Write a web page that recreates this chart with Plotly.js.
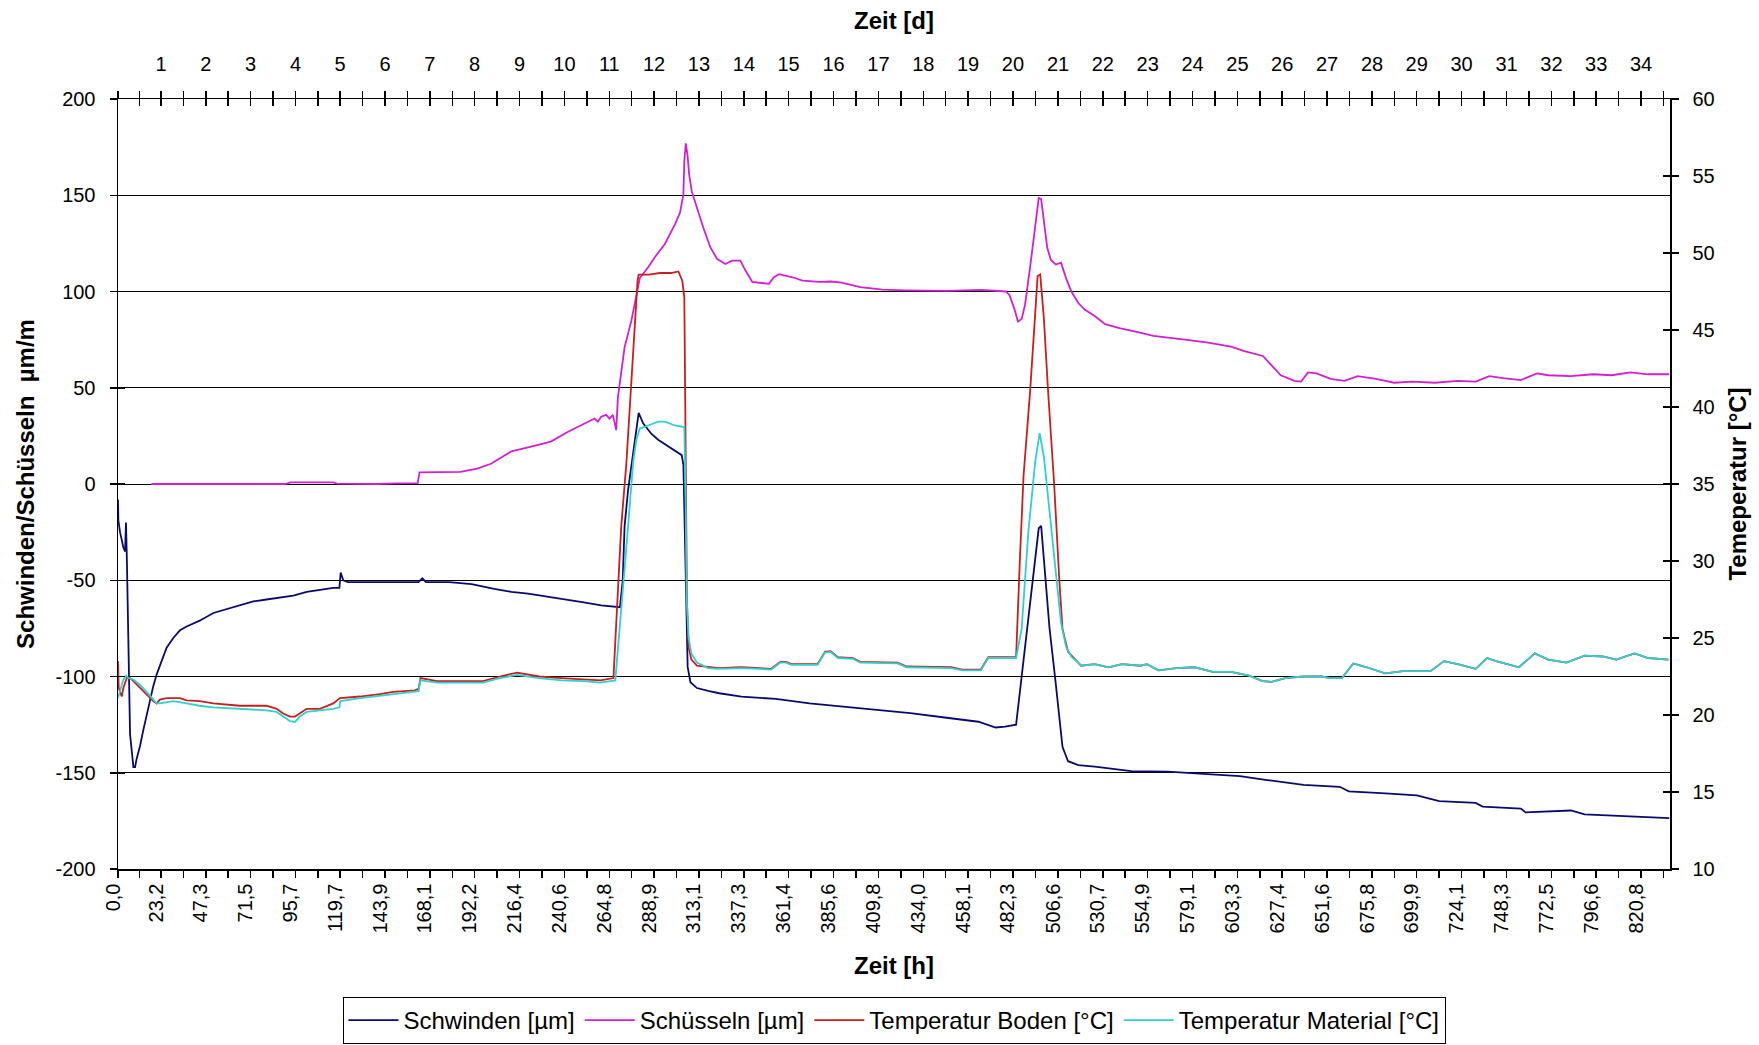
<!DOCTYPE html>
<html>
<head>
<meta charset="utf-8">
<script src="https://cdn.plot.ly/plotly-3.0.1.min.js"></script>
<style>html,body{margin:0;padding:0;background:#fff}#chart{width:1759px;height:1045px}</style>
</head>
<body>
<div id="chart"></div>
<script>
// ---- tick labels (category labels) ----
const hourTickLabels = ["0,0","23,2","47,3","71,5","95,7","119,7","143,9","168,1","192,2","216,4","240,6","264,8","288,9","313,1","337,3","361,4","385,6","409,8","434,0","458,1","482,3","506,6","530,7","554,9","579,1","603,3","627,4","651,6","675,8","699,9","724,1","748,3","772,5","796,6","820,8"];
const dayTickLabels = ["1","2","3","4","5","6","7","8","9","10","11","12","13","14","15","16","17","18","19","20","21","22","23","24","25","26","27","28","29","30","31","32","33","34"];
const leftTickValues = [-200,-150,-100,-50,0,50,100,150,200];
const rightTickValues = [10,15,20,25,30,35,40,45,50,55,60];
const seriesNames = ["Schwinden [µm]","Schüsseln [µm]","Temperatur Boden [°C]","Temperatur Material [°C]"];

// ---- series values: [time h, value] ----
const schwinden = [[0,-8],[0.2,-19],[1.1,-25],[2,-30],[2.9,-33],[3.8,-35],[4.3,-20],[4.8,-40],[5.6,-95],[6.5,-130],[8.3,-147],[9.2,-147],[10,-143],[11.9,-136],[13.6,-128],[15.4,-120],[17.2,-113],[19,-105],[20.8,-99],[22.6,-94],[24.4,-89],[26.2,-85],[29.8,-80],[33.4,-76],[37,-74],[44,-71],[51.4,-67],[58.5,-65],[65.7,-63],[72.9,-61],[80,-60],[87,-59],[94.5,-58],[101.7,-56],[108.8,-55],[116,-54],[119.3,-54],[120,-46],[121.4,-50],[124,-51],[140,-51],[155,-51],[162,-51],[164,-49],[166,-51],[178.5,-51],[190.6,-52],[202.7,-54.5],[212,-56],[221,-57],[233,-58.7],[242,-60],[251,-61.5],[260.4,-63],[268,-64],[270.5,-64],[272,-50],[273,-22],[274.9,-3],[279.4,28],[280.6,37],[283,31.5],[287.5,26],[291.1,23],[296.6,19.5],[303.8,15],[304.7,10],[305.6,-30],[306.2,-70],[307,-95],[308.5,-103],[312,-106],[318,-107.5],[324,-108.7],[336,-110.5],[354.5,-111.6],[372.7,-114],[391,-115.7],[409,-117.4],[427,-119],[445.5,-121.3],[463.7,-123.5],[473,-126.5],[478,-126],[484,-125],[487,-99.5],[491.6,-62.5],[496.2,-23],[497.5,-21.7],[499.5,-45],[502,-74.8],[505.4,-104],[509,-136.5],[512,-144],[517.5,-146],[526.4,-146.8],[546,-149.2],[565.5,-149.4],[587.5,-150.8],[604.6,-151.8],[619.3,-153.8],[638.9,-156.3],[658.4,-157.3],[663.3,-159.7],[683,-160.7],[700,-161.7],[712,-164.7],[731.7,-165.7],[735.4,-167.6],[756,-168.6],[758.6,-170.6],[783,-169.6],[790.4,-171.6],[810,-172.6],[836,-173.6]];

const schuesseln = [[18,0],[90,0],[93,0.8],[116,0.8],[118,0.2],[140,0],[150,0.3],[161.5,0.5],[162.5,6],[175,6],[184.5,6.3],[193.6,8],[201,10.5],[207,14],[212,17],[221,19],[230,21],[233.3,22],[242.3,27],[251.3,31.5],[256.8,34],[258.6,32.4],[260.4,35],[263.1,35.9],[264.9,34],[266.7,35.9],[268.5,28],[269.4,45],[271.2,59],[273,71],[276.7,85],[279.4,99],[281.2,107],[285.7,112.6],[289.3,117.8],[294.7,124.7],[300.2,135],[302.9,141],[304.7,150.5],[305.2,167.8],[306,177],[306.9,171],[307.8,161],[309.2,152],[311.9,143.6],[315.5,133],[319.2,123],[322.8,117],[327.3,114.3],[330.9,116],[335.4,116],[338.1,111],[341.8,105],[350.8,104],[353.5,107.4],[356.2,109],[363.5,107.4],[368.9,105.7],[378,105],[384,105.2],[390,104.6],[400,102.3],[412,101],[424,100.6],[447,100.3],[465,100.8],[478.6,100],[480.5,98],[483.2,90.6],[485,84.4],[487,85.7],[488.8,93],[491.6,113],[494.3,132.6],[496.2,148.6],[497.5,148],[499,135],[500.8,122.7],[502.7,116.5],[505.4,114],[508.2,115],[511,106.7],[513.8,100],[517.5,94],[521,90.6],[526.7,87],[532,83],[539.7,81],[549,79],[558,77],[575,75],[587.5,73.4],[599.8,71.4],[607,69],[617,66.5],[621.8,61.5],[626.6,56.5],[634,53.6],[637.6,53.2],[641.3,58],[646,57.5],[653.5,54.6],[661,53.6],[668,56],[678,54.6],[687.7,52.6],[697.5,53.2],[709.7,52.6],[722,53.6],[731.7,53.2],[739,56],[746.4,55],[756,54],[764.7,57.5],[770.8,56.5],[783,56],[795,57],[805,56.5],[815,58],[824.6,57],[836,57]];

const temperaturBoden = [[0,23.5],[0.4,21.75],[2,21.2],[2.9,21.75],[4.7,22.4],[6.5,22.4],[8.3,22.2],[11.9,21.75],[15.4,21.3],[19,20.9],[20.8,20.75],[22.6,21.0],[26.2,21.1],[33.4,21.1],[37,20.95],[44,20.9],[51.4,20.75],[65.7,20.6],[80,20.6],[85.5,20.4],[89,20.1],[92.7,19.9],[95.4,19.9],[98,20.1],[101.7,20.4],[108.8,20.4],[116,20.75],[119.6,21.1],[130.4,21.2],[141,21.35],[148.3,21.5],[160,21.6],[162,21.7],[163,22.4],[172,22.2],[196.7,22.2],[205.8,22.5],[215,22.75],[227,22.5],[239,22.4],[251,22.3],[260,22.25],[267,22.4],[271.2,32.25],[274,36.4],[276.7,41.75],[278.5,46],[280,48.2],[280.6,48.6],[286,48.6],[292,48.7],[298,48.7],[302,48.8],[304.1,48.2],[305.2,47.1],[305.6,41.75],[306,32],[306.6,27.5],[307.5,24.4],[309,23.6],[312,23.2],[324,23.05],[336,23.1],[352,23.0],[357,23.45],[360,23.45],[363,23.3],[377,23.3],[381,24.1],[384,24.15],[388,23.75],[396,23.7],[400,23.45],[420,23.4],[425,23.15],[449,23.1],[455,22.95],[465,22.95],[469,23.75],[484,23.75],[486,30],[488,35.5],[491.6,41.1],[495.6,48.5],[497,48.6],[499,45.7],[501.2,41.1],[504.5,35],[507.3,28.75],[509,25.6],[512,24.1],[517.5,23.4],[519,23.2],[526.4,23.3],[533.8,23.1],[541,23.3],[551,23.2],[554.5,23.3],[560.7,22.9],[570.4,23.05],[580.2,23.1],[590,22.8],[599.8,22.8],[609.5,22.55],[616.9,22.2],[621.8,22.15],[629,22.4],[638.9,22.5],[648.6,22.5],[653.5,22.4],[659.6,22.4],[665.7,23.35],[673,23.1],[682.9,22.7],[692.6,22.85],[707.3,22.85],[714.6,23.5],[722,23.3],[731.7,23.0],[737.8,23.7],[742.7,23.5],[755,23.1],[763.5,24.0],[770.8,23.6],[780.6,23.4],[790.4,23.85],[800.2,23.8],[807.5,23.6],[817.3,24.0],[824.6,23.7],[835.6,23.6]];

const temperaturMaterial = [[0,21.1],[1.1,21.5],[2.9,22.3],[4.3,22.55],[5.6,22.4],[8.3,22.3],[11.9,21.95],[15.4,21.5],[19,20.95],[20.8,20.75],[22.6,20.75],[29.8,20.9],[37,20.75],[44,20.6],[51.4,20.5],[65.7,20.4],[80,20.3],[85.5,20.2],[89,19.9],[92.7,19.6],[95.4,19.55],[98,19.9],[101.7,20.2],[108.8,20.3],[116,20.4],[119.3,20.5],[119.8,20.9],[130.4,21.1],[141,21.25],[152,21.4],[162,21.55],[163,22.25],[172,22.1],[196.7,22.1],[205.8,22.4],[215,22.6],[227,22.4],[239,22.25],[251,22.2],[260,22.1],[268,22.25],[274.9,32.25],[277.6,36.4],[279.4,37.9],[281.2,38.6],[285.7,38.8],[291.1,39.05],[294.7,39.05],[300.2,38.8],[305.2,38.7],[305.8,35],[306.5,27.5],[307.5,25],[309,24],[312,23.4],[318,23.05],[324,23.0],[336,23.05],[352,22.95],[357,23.4],[360,23.4],[363,23.25],[377,23.25],[381,24.05],[384,24.1],[388,23.7],[396,23.65],[400,23.4],[420,23.35],[425,23.1],[449,23.05],[455,22.9],[465,22.9],[469,23.7],[484,23.7],[487,25.6],[490.6,31.9],[494.3,36.45],[496.7,38.3],[499,36.75],[501.8,33.4],[505.4,29.4],[508.2,26],[511,24.4],[514,23.75],[517.5,23.4],[519,23.2],[526.4,23.3],[533.8,23.1],[541,23.3],[551,23.2],[554.5,23.3],[560.7,22.9],[570.4,23.05],[580.2,23.1],[590,22.8],[599.8,22.8],[609.5,22.55],[616.9,22.2],[621.8,22.15],[629,22.4],[638.9,22.5],[648.6,22.5],[653.5,22.4],[659.6,22.4],[665.7,23.35],[673,23.1],[682.9,22.7],[692.6,22.85],[707.3,22.85],[714.6,23.5],[722,23.3],[731.7,23.0],[737.8,23.7],[742.7,23.5],[755,23.1],[763.5,24.0],[770.8,23.6],[780.6,23.4],[790.4,23.85],[800.2,23.8],[807.5,23.6],[817.3,24.0],[824.6,23.7],[835.6,23.6]];

// ---- build ticks (labels every second category tick) ----
const hourPos = hourTickLabels.map(s => parseFloat(s.replace(',', '.')));
const tickVals = [], bottomText = [], topText = [];
hourPos.forEach((h, i) => {
  tickVals.push(h); bottomText.push(hourTickLabels[i]); topText.push(i === 0 ? '' : dayTickLabels[i - 1]);
  const next = i < hourPos.length - 1 ? hourPos[i + 1] : h + (h - hourPos[i - 1]);
  tickVals.push((h + next) / 2); bottomText.push(''); topText.push('');
});
const leftTickText = leftTickValues.map(v => String(v));   // plain hyphen-minus like the original
const rightTickText = rightTickValues.map(v => String(v));

const FONT = 'Liberation Sans, Arial, Helvetica, sans-serif';
const X_RANGE = [0, 836.4];
const col = {schw: '#0a0a6e', schu: '#d020d0', bod: '#c81e1e', mat: '#2ed0d0'};

function tr(data, name, color, yaxis) {
  return {type: 'scatter', mode: 'lines', name: name, x: data.map(p => p[0]), y: data.map(p => p[1]),
          xaxis: 'x', yaxis: yaxis, line: {color: color, width: 1.8}, hoverinfo: 'skip'};
}
const traces = [
  tr(schwinden, seriesNames[0], col.schw, 'y'),
  tr(schuesseln, seriesNames[1], col.schu, 'y'),
  tr(temperaturBoden, seriesNames[2], col.bod, 'y2'),
  tr(temperaturMaterial, seriesNames[3], col.mat, 'y2'),
  {type: 'scatter', mode: 'lines', x: [], y: [], xaxis: 'x2', yaxis: 'y3', showlegend: false, hoverinfo: 'skip'},
  {type: 'scatter', mode: 'lines', x: [], y: [], xaxis: 'x3', yaxis: 'y4', showlegend: false, hoverinfo: 'skip'}
];

const tickFont = {family: FONT, size: 20, color: '#000'};
const titleFont = {family: FONT, size: 24, color: '#000', weight: 700};
const axBase = {showgrid: false, zeroline: false, tickcolor: '#000', tickwidth: 1.5, ticklen: 7, fixedrange: true};

const layout = {
  width: 1759, height: 1045,
  margin: {l: 118, r: 89, t: 99, b: 176, pad: 0, autoexpand: false},
  paper_bgcolor: '#fff', plot_bgcolor: '#fff',
  font: {family: FONT, size: 20, color: '#000'},
  showlegend: true,
  legend: {orientation: 'h', x: 0.5, xanchor: 'center', y: -0.2273, yanchor: 'bottom',
           bordercolor: '#000', borderwidth: 1, bgcolor: '#fff', font: {family: FONT, size: 24, color: '#000'},
           itemwidth: 50, traceorder: 'normal'},
  xaxis: Object.assign({}, axBase, {range: X_RANGE, tickmode: 'array', tickvals: tickVals, ticktext: bottomText,
           tickangle: -90, ticks: 'outside', showline: true, linecolor: '#000', linewidth: 1.5, anchor: 'y',
           tickfont: tickFont, ticklabelstandoff: -2, ticklabelshift: -5,
           title: {text: 'Zeit [h]', font: titleFont, standoff: 24}}),
  xaxis2: Object.assign({}, axBase, {range: X_RANGE, overlaying: 'x', side: 'top', anchor: 'y', tickmode: 'array',
           tickvals: tickVals, ticktext: topText, tickangle: 0, ticks: 'outside', showline: true, linecolor: '#000',
           linewidth: 1.5, tickfont: tickFont, ticklabelstandoff: 12, title: {text: 'Zeit [d]', font: titleFont, standoff: 16}}),
  xaxis3: Object.assign({}, axBase, {range: X_RANGE, overlaying: 'x', side: 'top', anchor: 'y', tickmode: 'array',
           tickvals: tickVals, ticks: 'inside', showticklabels: false, showline: false}),
  yaxis: Object.assign({}, axBase, {range: [-200, 200], tickmode: 'array', tickvals: leftTickValues, ticktext: leftTickText,
           ticks: 'outside', showgrid: true, gridcolor: '#000', gridwidth: 1, showline: true, linecolor: '#000', linewidth: 1.5,
           anchor: 'x', tickfont: tickFont, ticklabelstandoff: 10,
           title: {text: 'Schwinden/Schüsseln \u00a0µm/m', font: titleFont, standoff: 14}}),
  yaxis2: Object.assign({}, axBase, {range: [10, 60], tickmode: 'array', tickvals: rightTickValues, ticktext: rightTickText,
           overlaying: 'y', side: 'right', anchor: 'x', ticks: 'outside', showline: true, linecolor: '#000', linewidth: 1.5,
           tickfont: tickFont, ticklabelstandoff: 10, title: {text: 'Temeperatur [°C]', font: titleFont, standoff: 15}}),
  yaxis3: Object.assign({}, axBase, {range: [-200, 200], tickmode: 'array', tickvals: leftTickValues, overlaying: 'y',
           side: 'left', anchor: 'x', ticks: 'inside', showticklabels: false, showline: false}),
  yaxis4: Object.assign({}, axBase, {range: [10, 60], tickmode: 'array', tickvals: rightTickValues, overlaying: 'y',
           side: 'right', anchor: 'x', ticks: 'inside', showticklabels: false, showline: false})
};

Plotly.newPlot('chart', traces, layout, {staticPlot: true, displayModeBar: false});
</script>
</body>
</html>
